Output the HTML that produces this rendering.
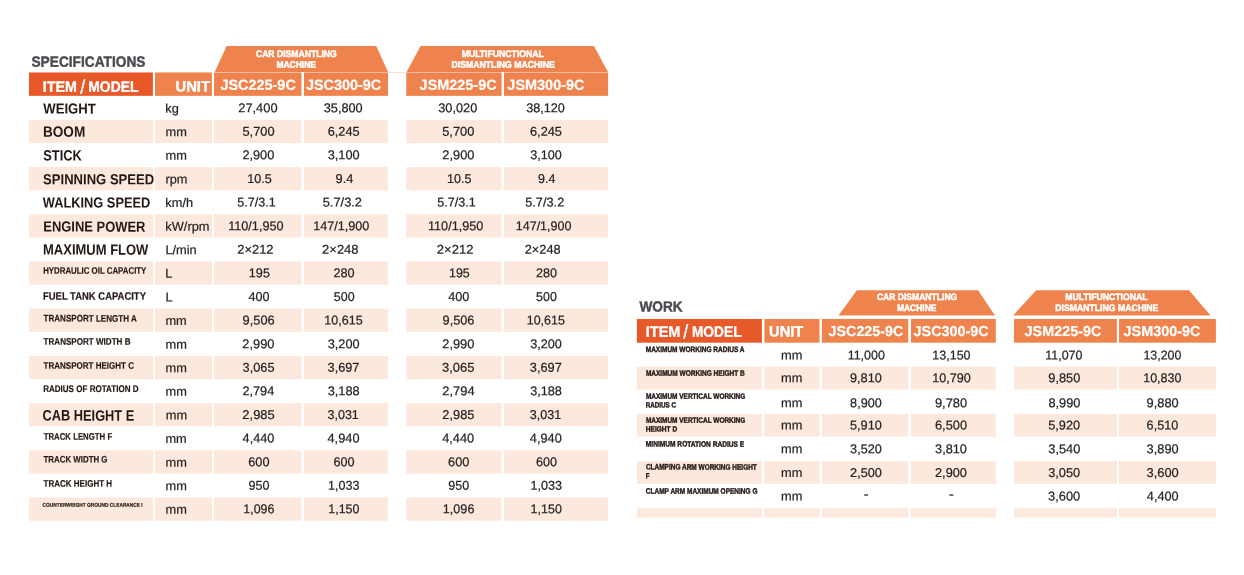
<!DOCTYPE html>
<html><head><meta charset="utf-8"><title>Specifications</title>
<style>
html,body{margin:0;padding:0;background:#fff;}
body{width:1244px;height:575px;position:relative;overflow:hidden;font-family:"Liberation Sans",sans-serif;}
svg{position:absolute;left:0;top:0;}
.tx{position:absolute;left:0;top:0;width:1244px;height:575px;will-change:transform;}
.t{position:absolute;left:0;top:0;white-space:pre;line-height:1;transform-origin:0 0;font-family:"Liberation Sans",sans-serif;}
</style></head><body>
<svg width="1244" height="575" viewBox="0 0 1244 575">
<rect x="29.00" y="72.45" width="123.90" height="23.40" fill="#e8592a"/>
<rect x="155.00" y="72.45" width="56.90" height="23.40" fill="#ef834d"/>
<rect x="214.00" y="72.45" width="87.50" height="23.40" fill="#ef834d"/>
<rect x="304.00" y="72.45" width="84.00" height="23.40" fill="#ef834d"/>
<rect x="406.25" y="72.45" width="95.35" height="23.40" fill="#ef834d"/>
<rect x="504.00" y="72.45" width="104.10" height="23.40" fill="#ef834d"/>
<rect x="29.00" y="119.90" width="123.90" height="23.20" fill="#fce8dc"/>
<rect x="155.00" y="119.90" width="56.90" height="23.20" fill="#fce8dc"/>
<rect x="214.00" y="119.90" width="87.50" height="23.20" fill="#fce8dc"/>
<rect x="304.00" y="119.90" width="84.00" height="23.20" fill="#fce8dc"/>
<rect x="406.25" y="119.90" width="95.35" height="23.20" fill="#fce8dc"/>
<rect x="504.00" y="119.90" width="104.10" height="23.20" fill="#fce8dc"/>
<rect x="29.00" y="167.10" width="123.90" height="23.20" fill="#fce8dc"/>
<rect x="155.00" y="167.10" width="56.90" height="23.20" fill="#fce8dc"/>
<rect x="214.00" y="167.10" width="87.50" height="23.20" fill="#fce8dc"/>
<rect x="304.00" y="167.10" width="84.00" height="23.20" fill="#fce8dc"/>
<rect x="406.25" y="167.10" width="95.35" height="23.20" fill="#fce8dc"/>
<rect x="504.00" y="167.10" width="104.10" height="23.20" fill="#fce8dc"/>
<rect x="29.00" y="214.30" width="123.90" height="23.20" fill="#fce8dc"/>
<rect x="155.00" y="214.30" width="56.90" height="23.20" fill="#fce8dc"/>
<rect x="214.00" y="214.30" width="87.50" height="23.20" fill="#fce8dc"/>
<rect x="304.00" y="214.30" width="84.00" height="23.20" fill="#fce8dc"/>
<rect x="406.25" y="214.30" width="95.35" height="23.20" fill="#fce8dc"/>
<rect x="504.00" y="214.30" width="104.10" height="23.20" fill="#fce8dc"/>
<rect x="29.00" y="261.50" width="123.90" height="23.20" fill="#fce8dc"/>
<rect x="155.00" y="261.50" width="56.90" height="23.20" fill="#fce8dc"/>
<rect x="214.00" y="261.50" width="87.50" height="23.20" fill="#fce8dc"/>
<rect x="304.00" y="261.50" width="84.00" height="23.20" fill="#fce8dc"/>
<rect x="406.25" y="261.50" width="95.35" height="23.20" fill="#fce8dc"/>
<rect x="504.00" y="261.50" width="104.10" height="23.20" fill="#fce8dc"/>
<rect x="29.00" y="308.70" width="123.90" height="23.20" fill="#fce8dc"/>
<rect x="155.00" y="308.70" width="56.90" height="23.20" fill="#fce8dc"/>
<rect x="214.00" y="308.70" width="87.50" height="23.20" fill="#fce8dc"/>
<rect x="304.00" y="308.70" width="84.00" height="23.20" fill="#fce8dc"/>
<rect x="406.25" y="308.70" width="95.35" height="23.20" fill="#fce8dc"/>
<rect x="504.00" y="308.70" width="104.10" height="23.20" fill="#fce8dc"/>
<rect x="29.00" y="355.90" width="123.90" height="23.20" fill="#fce8dc"/>
<rect x="155.00" y="355.90" width="56.90" height="23.20" fill="#fce8dc"/>
<rect x="214.00" y="355.90" width="87.50" height="23.20" fill="#fce8dc"/>
<rect x="304.00" y="355.90" width="84.00" height="23.20" fill="#fce8dc"/>
<rect x="406.25" y="355.90" width="95.35" height="23.20" fill="#fce8dc"/>
<rect x="504.00" y="355.90" width="104.10" height="23.20" fill="#fce8dc"/>
<rect x="29.00" y="403.10" width="123.90" height="23.20" fill="#fce8dc"/>
<rect x="155.00" y="403.10" width="56.90" height="23.20" fill="#fce8dc"/>
<rect x="214.00" y="403.10" width="87.50" height="23.20" fill="#fce8dc"/>
<rect x="304.00" y="403.10" width="84.00" height="23.20" fill="#fce8dc"/>
<rect x="406.25" y="403.10" width="95.35" height="23.20" fill="#fce8dc"/>
<rect x="504.00" y="403.10" width="104.10" height="23.20" fill="#fce8dc"/>
<rect x="29.00" y="450.30" width="123.90" height="23.20" fill="#fce8dc"/>
<rect x="155.00" y="450.30" width="56.90" height="23.20" fill="#fce8dc"/>
<rect x="214.00" y="450.30" width="87.50" height="23.20" fill="#fce8dc"/>
<rect x="304.00" y="450.30" width="84.00" height="23.20" fill="#fce8dc"/>
<rect x="406.25" y="450.30" width="95.35" height="23.20" fill="#fce8dc"/>
<rect x="504.00" y="450.30" width="104.10" height="23.20" fill="#fce8dc"/>
<rect x="29.00" y="497.50" width="123.90" height="23.20" fill="#fce8dc"/>
<rect x="155.00" y="497.50" width="56.90" height="23.20" fill="#fce8dc"/>
<rect x="214.00" y="497.50" width="87.50" height="23.20" fill="#fce8dc"/>
<rect x="304.00" y="497.50" width="84.00" height="23.20" fill="#fce8dc"/>
<rect x="406.25" y="497.50" width="95.35" height="23.20" fill="#fce8dc"/>
<rect x="504.00" y="497.50" width="104.10" height="23.20" fill="#fce8dc"/>
<polygon points="226.70,46.10 376.30,46.10 388.00,71.95 214.70,71.95" fill="#ef834d"/>
<polygon points="420.60,46.10 593.90,46.10 608.00,71.95 406.60,71.95" fill="#ef834d"/>
<rect x="388.00" y="72.00" width="18.25" height="0.60" fill="#f7c9b2"/>
<rect x="636.90" y="319.00" width="125.00" height="23.70" fill="#e8592a"/>
<rect x="764.40" y="319.00" width="55.10" height="23.70" fill="#ef834d"/>
<rect x="821.90" y="319.00" width="86.30" height="23.70" fill="#ef834d"/>
<rect x="911.00" y="319.00" width="84.80" height="23.70" fill="#ef834d"/>
<rect x="1014.00" y="319.00" width="102.90" height="23.70" fill="#ef834d"/>
<rect x="1119.00" y="319.00" width="96.90" height="23.70" fill="#ef834d"/>
<rect x="636.90" y="366.70" width="125.00" height="22.80" fill="#fce8dc"/>
<rect x="764.40" y="366.70" width="55.10" height="22.80" fill="#fce8dc"/>
<rect x="821.90" y="366.70" width="86.30" height="22.80" fill="#fce8dc"/>
<rect x="911.00" y="366.70" width="84.80" height="22.80" fill="#fce8dc"/>
<rect x="1014.00" y="366.70" width="102.90" height="22.80" fill="#fce8dc"/>
<rect x="1119.00" y="366.70" width="96.90" height="22.80" fill="#fce8dc"/>
<rect x="636.90" y="413.90" width="125.00" height="22.80" fill="#fce8dc"/>
<rect x="764.40" y="413.90" width="55.10" height="22.80" fill="#fce8dc"/>
<rect x="821.90" y="413.90" width="86.30" height="22.80" fill="#fce8dc"/>
<rect x="911.00" y="413.90" width="84.80" height="22.80" fill="#fce8dc"/>
<rect x="1014.00" y="413.90" width="102.90" height="22.80" fill="#fce8dc"/>
<rect x="1119.00" y="413.90" width="96.90" height="22.80" fill="#fce8dc"/>
<rect x="636.90" y="461.10" width="125.00" height="22.80" fill="#fce8dc"/>
<rect x="764.40" y="461.10" width="55.10" height="22.80" fill="#fce8dc"/>
<rect x="821.90" y="461.10" width="86.30" height="22.80" fill="#fce8dc"/>
<rect x="911.00" y="461.10" width="84.80" height="22.80" fill="#fce8dc"/>
<rect x="1014.00" y="461.10" width="102.90" height="22.80" fill="#fce8dc"/>
<rect x="1119.00" y="461.10" width="96.90" height="22.80" fill="#fce8dc"/>
<rect x="636.90" y="508.30" width="125.00" height="9.20" fill="#fce8dc"/>
<rect x="764.40" y="508.30" width="55.10" height="9.20" fill="#fce8dc"/>
<rect x="821.90" y="508.30" width="86.30" height="9.20" fill="#fce8dc"/>
<rect x="911.00" y="508.30" width="84.80" height="9.20" fill="#fce8dc"/>
<rect x="1014.00" y="508.30" width="102.90" height="9.20" fill="#fce8dc"/>
<rect x="1119.00" y="508.30" width="96.90" height="9.20" fill="#fce8dc"/>
<polygon points="856.90,290.25 978.10,290.25 995.00,315.40 838.50,315.40" fill="#ef834d"/>
<polygon points="1036.25,290.25 1189.00,290.25 1210.50,315.40 1013.10,315.40" fill="#ef834d"/>
</svg>
<div class="tx">
<span class="t" style="font-size:14.9px;color:#4b4a4f;transform:translate(31.47px,54.75px) scaleX(0.9210) rotate(0.03deg);font-weight:700;-webkit-text-stroke:0.4px #4b4a4f;">SPECIFICATIONS</span>
<span class="t" style="font-size:14.9px;color:#fff;transform:translate(42.86px,79.75px) scaleX(0.9576) rotate(0.03deg);font-weight:700;-webkit-text-stroke:0.35px #fff;">ITEM</span>
<span class="t" style="font-size:19.33px;color:#fff;transform:translate(80.29px,77.60px) scaleX(0.9148) rotate(0.03deg);-webkit-text-stroke:0.45px #fff;">/</span>
<span class="t" style="font-size:14.9px;color:#fff;transform:translate(88.29px,79.75px) scaleX(0.9323) rotate(0.03deg);font-weight:700;-webkit-text-stroke:0.35px #fff;">MODEL</span>
<span class="t" style="font-size:14.9px;color:#fff;transform:translate(175.44px,79.50px) scaleX(0.9957) rotate(0.03deg);font-weight:700;-webkit-text-stroke:0.4px #fff;">UNIT</span>
<span class="t" style="font-size:14.39px;color:#fff;transform:translate(220.41px,77.70px) scaleX(1.0038) rotate(0.03deg);font-weight:700;-webkit-text-stroke:0.2px #fff;">JSC225-9C</span>
<span class="t" style="font-size:14.39px;color:#fff;transform:translate(305.91px,77.70px) scaleX(1.0022) rotate(0.03deg);font-weight:700;-webkit-text-stroke:0.2px #fff;">JSC300-9C</span>
<span class="t" style="font-size:14.39px;color:#fff;transform:translate(419.61px,77.70px) scaleX(1.0036) rotate(0.03deg);font-weight:700;-webkit-text-stroke:0.2px #fff;">JSM225-9C</span>
<span class="t" style="font-size:14.39px;color:#fff;transform:translate(507.37px,77.70px) scaleX(1.0048) rotate(0.03deg);font-weight:700;-webkit-text-stroke:0.2px #fff;">JSM300-9C</span>
<span class="t" style="font-size:9.59px;color:#fff;transform:translate(255.95px,48.90px) scaleX(0.8977) rotate(0.03deg);font-weight:700;-webkit-text-stroke:0.5px #fff;">CAR DISMANTLING</span>
<span class="t" style="font-size:9.59px;color:#fff;transform:translate(276.40px,59.75px) scaleX(0.8853) rotate(0.03deg);font-weight:700;-webkit-text-stroke:0.5px #fff;">MACHINE</span>
<span class="t" style="font-size:9.59px;color:#fff;transform:translate(461.67px,48.90px) scaleX(0.9057) rotate(0.03deg);font-weight:700;-webkit-text-stroke:0.5px #fff;">MULTIFUNCTIONAL</span>
<span class="t" style="font-size:9.59px;color:#fff;transform:translate(451.52px,59.75px) scaleX(0.9073) rotate(0.03deg);font-weight:700;-webkit-text-stroke:0.5px #fff;">DISMANTLING MACHINE</span>
<span class="t" style="font-size:14.53px;color:#231815;transform:translate(43.24px,101.60px) scaleX(0.9048) rotate(0.03deg);font-weight:700;">WEIGHT</span>
<span class="t" style="font-size:14.9px;color:#231815;transform:translate(42.92px,124.75px) scaleX(0.9130) rotate(0.03deg);font-weight:700;">BOOM</span>
<span class="t" style="font-size:14.9px;color:#231815;transform:translate(43.19px,148.50px) scaleX(0.8648) rotate(0.03deg);font-weight:700;">STICK</span>
<span class="t" style="font-size:14.53px;color:#231815;transform:translate(43.13px,172.25px) scaleX(0.8996) rotate(0.03deg);font-weight:700;">SPINNING SPEED</span>
<span class="t" style="font-size:14.53px;color:#231815;transform:translate(42.81px,195.50px) scaleX(0.8828) rotate(0.03deg);font-weight:700;">WALKING SPEED</span>
<span class="t" style="font-size:14.68px;color:#231815;transform:translate(43.26px,219.60px) scaleX(0.8827) rotate(0.03deg);font-weight:700;">ENGINE POWER</span>
<span class="t" style="font-size:14.83px;color:#231815;transform:translate(43.02px,242.60px) scaleX(0.8762) rotate(0.03deg);font-weight:700;">MAXIMUM FLOW</span>
<span class="t" style="font-size:9.45px;color:#231815;transform:translate(43.15px,265.75px) scaleX(0.8330) rotate(0.03deg);font-weight:700;-webkit-text-stroke:0.2px #231815;">HYDRAULIC OIL CAPACITY</span>
<span class="t" style="font-size:10.9px;color:#231815;transform:translate(42.98px,290.75px) scaleX(0.8684) rotate(0.03deg);font-weight:700;-webkit-text-stroke:0.2px #231815;">FUEL TANK CAPACITY</span>
<span class="t" style="font-size:9.59px;color:#231815;transform:translate(43.51px,313.60px) scaleX(0.8422) rotate(0.03deg);font-weight:700;-webkit-text-stroke:0.2px #231815;">TRANSPORT LENGTH A</span>
<span class="t" style="font-size:9.59px;color:#231815;transform:translate(43.61px,336.75px) scaleX(0.8417) rotate(0.03deg);font-weight:700;-webkit-text-stroke:0.2px #231815;">TRANSPORT WIDTH B</span>
<span class="t" style="font-size:9.45px;color:#231815;transform:translate(43.52px,360.75px) scaleX(0.8495) rotate(0.03deg);font-weight:700;-webkit-text-stroke:0.2px #231815;">TRANSPORT HEIGHT C</span>
<span class="t" style="font-size:9.59px;color:#231815;transform:translate(43.14px,383.90px) scaleX(0.8401) rotate(0.03deg);font-weight:700;-webkit-text-stroke:0.2px #231815;">RADIUS OF ROTATION D</span>
<span class="t" style="font-size:15.12px;color:#231815;transform:translate(42.42px,407.60px) scaleX(0.8487) rotate(0.03deg);font-weight:700;">CAB HEIGHT E</span>
<span class="t" style="font-size:9.59px;color:#231815;transform:translate(43.63px,431.75px) scaleX(0.8155) rotate(0.03deg);font-weight:700;-webkit-text-stroke:0.2px #231815;">TRACK LENGTH F</span>
<span class="t" style="font-size:9.45px;color:#231815;transform:translate(43.51px,454.50px) scaleX(0.8358) rotate(0.03deg);font-weight:700;-webkit-text-stroke:0.2px #231815;">TRACK WIDTH G</span>
<span class="t" style="font-size:9.59px;color:#231815;transform:translate(43.61px,478.75px) scaleX(0.8351) rotate(0.03deg);font-weight:700;-webkit-text-stroke:0.2px #231815;">TRACK HEIGHT H</span>
<span class="t" style="font-size:5.45px;color:#231815;transform:translate(42.60px,502.75px) scaleX(0.8869) rotate(0.03deg);font-weight:700;-webkit-text-stroke:0.2px #231815;">COUNTERWEIGHT GROUND CLEARANCE I</span>
<span class="t" style="font-size:12.8px;color:#262223;transform:translate(238.28px,102.15px) scaleX(1.0027) rotate(0.03deg);-webkit-text-stroke:0.22px #262223;">27,400</span>
<span class="t" style="font-size:12.8px;color:#262223;transform:translate(323.76px,102.15px) scaleX(0.9928) rotate(0.03deg);-webkit-text-stroke:0.22px #262223;">35,800</span>
<span class="t" style="font-size:12.8px;color:#262223;transform:translate(438.26px,102.15px) scaleX(0.9973) rotate(0.03deg);-webkit-text-stroke:0.22px #262223;">30,020</span>
<span class="t" style="font-size:12.8px;color:#262223;transform:translate(526.15px,102.15px) scaleX(0.9880) rotate(0.03deg);-webkit-text-stroke:0.22px #262223;">38,120</span>
<span class="t" style="font-size:12.8px;color:#262223;transform:translate(242.41px,125.75px) scaleX(1.0051) rotate(0.03deg);-webkit-text-stroke:0.22px #262223;">5,700</span>
<span class="t" style="font-size:12.8px;color:#262223;transform:translate(327.66px,125.75px) scaleX(0.9981) rotate(0.03deg);-webkit-text-stroke:0.22px #262223;">6,245</span>
<span class="t" style="font-size:12.8px;color:#262223;transform:translate(442.23px,125.75px) scaleX(1.0032) rotate(0.03deg);-webkit-text-stroke:0.22px #262223;">5,700</span>
<span class="t" style="font-size:12.8px;color:#262223;transform:translate(529.98px,125.75px) scaleX(0.9986) rotate(0.03deg);-webkit-text-stroke:0.22px #262223;">6,245</span>
<span class="t" style="font-size:12.8px;color:#262223;transform:translate(242.42px,149.35px) scaleX(0.9954) rotate(0.03deg);-webkit-text-stroke:0.22px #262223;">2,900</span>
<span class="t" style="font-size:12.8px;color:#262223;transform:translate(327.64px,149.35px) scaleX(0.9990) rotate(0.03deg);-webkit-text-stroke:0.22px #262223;">3,100</span>
<span class="t" style="font-size:12.8px;color:#262223;transform:translate(442.36px,149.35px) scaleX(0.9995) rotate(0.03deg);-webkit-text-stroke:0.22px #262223;">2,900</span>
<span class="t" style="font-size:12.8px;color:#262223;transform:translate(530.14px,149.35px) scaleX(0.9887) rotate(0.03deg);-webkit-text-stroke:0.22px #262223;">3,100</span>
<span class="t" style="font-size:12.8px;color:#262223;transform:translate(247.16px,172.95px) scaleX(0.9853) rotate(0.03deg);-webkit-text-stroke:0.22px #262223;">10.5</span>
<span class="t" style="font-size:12.8px;color:#262223;transform:translate(335.61px,172.95px) scaleX(0.9966) rotate(0.03deg);-webkit-text-stroke:0.22px #262223;">9.4</span>
<span class="t" style="font-size:12.8px;color:#262223;transform:translate(447.02px,172.95px) scaleX(0.9795) rotate(0.03deg);-webkit-text-stroke:0.22px #262223;">10.5</span>
<span class="t" style="font-size:12.8px;color:#262223;transform:translate(538.08px,172.95px) scaleX(0.9746) rotate(0.03deg);-webkit-text-stroke:0.22px #262223;">9.4</span>
<span class="t" style="font-size:12.8px;color:#262223;transform:translate(237.36px,196.55px) scaleX(0.9829) rotate(0.03deg);-webkit-text-stroke:0.22px #262223;">5.7/3.1</span>
<span class="t" style="font-size:12.8px;color:#262223;transform:translate(322.74px,196.55px) scaleX(1.0029) rotate(0.03deg);-webkit-text-stroke:0.22px #262223;">5.7/3.2</span>
<span class="t" style="font-size:12.8px;color:#262223;transform:translate(437.15px,196.55px) scaleX(0.9840) rotate(0.03deg);-webkit-text-stroke:0.22px #262223;">5.7/3.1</span>
<span class="t" style="font-size:12.8px;color:#262223;transform:translate(525.21px,196.55px) scaleX(0.9973) rotate(0.03deg);-webkit-text-stroke:0.22px #262223;">5.7/3.2</span>
<span class="t" style="font-size:12.8px;color:#262223;transform:translate(228.17px,220.15px) scaleX(0.9894) rotate(0.03deg);-webkit-text-stroke:0.22px #262223;">110/1,950</span>
<span class="t" style="font-size:12.8px;color:#262223;transform:translate(313.19px,220.15px) scaleX(0.9859) rotate(0.03deg);-webkit-text-stroke:0.22px #262223;">147/1,900</span>
<span class="t" style="font-size:12.8px;color:#262223;transform:translate(427.95px,220.15px) scaleX(0.9893) rotate(0.03deg);-webkit-text-stroke:0.22px #262223;">110/1,950</span>
<span class="t" style="font-size:12.8px;color:#262223;transform:translate(515.69px,220.15px) scaleX(0.9812) rotate(0.03deg);-webkit-text-stroke:0.22px #262223;">147/1,900</span>
<span class="t" style="font-size:12.8px;color:#262223;transform:translate(237.20px,243.75px) scaleX(1.0123) rotate(0.03deg);-webkit-text-stroke:0.22px #262223;">2×212</span>
<span class="t" style="font-size:12.8px;color:#262223;transform:translate(322.11px,243.75px) scaleX(1.0137) rotate(0.03deg);-webkit-text-stroke:0.22px #262223;">2×248</span>
<span class="t" style="font-size:12.8px;color:#262223;transform:translate(436.87px,243.75px) scaleX(1.0156) rotate(0.03deg);-webkit-text-stroke:0.22px #262223;">2×212</span>
<span class="t" style="font-size:12.8px;color:#262223;transform:translate(524.76px,243.75px) scaleX(0.9961) rotate(0.03deg);-webkit-text-stroke:0.22px #262223;">2×248</span>
<span class="t" style="font-size:12.8px;color:#262223;transform:translate(248.86px,267.35px) scaleX(0.9855) rotate(0.03deg);-webkit-text-stroke:0.22px #262223;">195</span>
<span class="t" style="font-size:12.8px;color:#262223;transform:translate(333.41px,267.35px) scaleX(0.9916) rotate(0.03deg);-webkit-text-stroke:0.22px #262223;">280</span>
<span class="t" style="font-size:12.8px;color:#262223;transform:translate(449.02px,267.35px) scaleX(0.9694) rotate(0.03deg);-webkit-text-stroke:0.22px #262223;">195</span>
<span class="t" style="font-size:12.8px;color:#262223;transform:translate(535.97px,267.35px) scaleX(0.9851) rotate(0.03deg);-webkit-text-stroke:0.22px #262223;">280</span>
<span class="t" style="font-size:12.8px;color:#262223;transform:translate(248.58px,290.95px) scaleX(0.9862) rotate(0.03deg);-webkit-text-stroke:0.22px #262223;">400</span>
<span class="t" style="font-size:12.8px;color:#262223;transform:translate(333.80px,290.95px) scaleX(0.9723) rotate(0.03deg);-webkit-text-stroke:0.22px #262223;">500</span>
<span class="t" style="font-size:12.8px;color:#262223;transform:translate(448.25px,290.95px) scaleX(0.9896) rotate(0.03deg);-webkit-text-stroke:0.22px #262223;">400</span>
<span class="t" style="font-size:12.8px;color:#262223;transform:translate(536.13px,290.95px) scaleX(0.9747) rotate(0.03deg);-webkit-text-stroke:0.22px #262223;">500</span>
<span class="t" style="font-size:12.8px;color:#262223;transform:translate(242.61px,314.55px) scaleX(1.0011) rotate(0.03deg);-webkit-text-stroke:0.22px #262223;">9,506</span>
<span class="t" style="font-size:12.8px;color:#262223;transform:translate(324.38px,314.55px) scaleX(0.9764) rotate(0.03deg);-webkit-text-stroke:0.22px #262223;">10,615</span>
<span class="t" style="font-size:12.8px;color:#262223;transform:translate(442.57px,314.55px) scaleX(0.9947) rotate(0.03deg);-webkit-text-stroke:0.22px #262223;">9,506</span>
<span class="t" style="font-size:12.8px;color:#262223;transform:translate(526.80px,314.55px) scaleX(0.9712) rotate(0.03deg);-webkit-text-stroke:0.22px #262223;">10,615</span>
<span class="t" style="font-size:12.8px;color:#262223;transform:translate(242.38px,338.15px) scaleX(1.0014) rotate(0.03deg);-webkit-text-stroke:0.22px #262223;">2,990</span>
<span class="t" style="font-size:12.8px;color:#262223;transform:translate(327.64px,338.15px) scaleX(0.9990) rotate(0.03deg);-webkit-text-stroke:0.22px #262223;">3,200</span>
<span class="t" style="font-size:12.8px;color:#262223;transform:translate(442.28px,338.15px) scaleX(1.0008) rotate(0.03deg);-webkit-text-stroke:0.22px #262223;">2,990</span>
<span class="t" style="font-size:12.8px;color:#262223;transform:translate(530.14px,338.15px) scaleX(0.9887) rotate(0.03deg);-webkit-text-stroke:0.22px #262223;">3,200</span>
<span class="t" style="font-size:12.8px;color:#262223;transform:translate(242.63px,361.75px) scaleX(0.9957) rotate(0.03deg);-webkit-text-stroke:0.22px #262223;">3,065</span>
<span class="t" style="font-size:12.8px;color:#262223;transform:translate(327.59px,361.75px) scaleX(0.9930) rotate(0.03deg);-webkit-text-stroke:0.22px #262223;">3,697</span>
<span class="t" style="font-size:12.8px;color:#262223;transform:translate(442.07px,361.75px) scaleX(1.0102) rotate(0.03deg);-webkit-text-stroke:0.22px #262223;">3,065</span>
<span class="t" style="font-size:12.8px;color:#262223;transform:translate(529.81px,361.75px) scaleX(0.9968) rotate(0.03deg);-webkit-text-stroke:0.22px #262223;">3,697</span>
<span class="t" style="font-size:12.8px;color:#262223;transform:translate(242.40px,385.35px) scaleX(0.9952) rotate(0.03deg);-webkit-text-stroke:0.22px #262223;">2,794</span>
<span class="t" style="font-size:12.8px;color:#262223;transform:translate(327.64px,385.35px) scaleX(0.9993) rotate(0.03deg);-webkit-text-stroke:0.22px #262223;">3,188</span>
<span class="t" style="font-size:12.8px;color:#262223;transform:translate(442.26px,385.35px) scaleX(1.0099) rotate(0.03deg);-webkit-text-stroke:0.22px #262223;">2,794</span>
<span class="t" style="font-size:12.8px;color:#262223;transform:translate(530.14px,385.35px) scaleX(0.9912) rotate(0.03deg);-webkit-text-stroke:0.22px #262223;">3,188</span>
<span class="t" style="font-size:12.8px;color:#262223;transform:translate(242.36px,408.95px) scaleX(1.0098) rotate(0.03deg);-webkit-text-stroke:0.22px #262223;">2,985</span>
<span class="t" style="font-size:12.8px;color:#262223;transform:translate(327.51px,408.95px) scaleX(0.9779) rotate(0.03deg);-webkit-text-stroke:0.22px #262223;">3,031</span>
<span class="t" style="font-size:12.8px;color:#262223;transform:translate(442.38px,408.95px) scaleX(0.9999) rotate(0.03deg);-webkit-text-stroke:0.22px #262223;">2,985</span>
<span class="t" style="font-size:12.8px;color:#262223;transform:translate(529.81px,408.95px) scaleX(0.9791) rotate(0.03deg);-webkit-text-stroke:0.22px #262223;">3,031</span>
<span class="t" style="font-size:12.8px;color:#262223;transform:translate(242.60px,432.55px) scaleX(0.9944) rotate(0.03deg);-webkit-text-stroke:0.22px #262223;">4,440</span>
<span class="t" style="font-size:12.8px;color:#262223;transform:translate(327.52px,432.55px) scaleX(0.9988) rotate(0.03deg);-webkit-text-stroke:0.22px #262223;">4,940</span>
<span class="t" style="font-size:12.8px;color:#262223;transform:translate(442.16px,432.55px) scaleX(1.0010) rotate(0.03deg);-webkit-text-stroke:0.22px #262223;">4,440</span>
<span class="t" style="font-size:12.8px;color:#262223;transform:translate(529.87px,432.55px) scaleX(0.9945) rotate(0.03deg);-webkit-text-stroke:0.22px #262223;">4,940</span>
<span class="t" style="font-size:12.8px;color:#262223;transform:translate(248.23px,456.15px) scaleX(0.9981) rotate(0.03deg);-webkit-text-stroke:0.22px #262223;">600</span>
<span class="t" style="font-size:12.8px;color:#262223;transform:translate(333.48px,456.15px) scaleX(0.9893) rotate(0.03deg);-webkit-text-stroke:0.22px #262223;">600</span>
<span class="t" style="font-size:12.8px;color:#262223;transform:translate(448.03px,456.15px) scaleX(0.9994) rotate(0.03deg);-webkit-text-stroke:0.22px #262223;">600</span>
<span class="t" style="font-size:12.8px;color:#262223;transform:translate(535.93px,456.15px) scaleX(0.9866) rotate(0.03deg);-webkit-text-stroke:0.22px #262223;">600</span>
<span class="t" style="font-size:12.8px;color:#262223;transform:translate(248.53px,479.75px) scaleX(0.9810) rotate(0.03deg);-webkit-text-stroke:0.22px #262223;">950</span>
<span class="t" style="font-size:12.8px;color:#262223;transform:translate(328.10px,479.75px) scaleX(0.9825) rotate(0.03deg);-webkit-text-stroke:0.22px #262223;">1,033</span>
<span class="t" style="font-size:12.8px;color:#262223;transform:translate(448.32px,479.75px) scaleX(0.9790) rotate(0.03deg);-webkit-text-stroke:0.22px #262223;">950</span>
<span class="t" style="font-size:12.8px;color:#262223;transform:translate(530.44px,479.75px) scaleX(0.9837) rotate(0.03deg);-webkit-text-stroke:0.22px #262223;">1,033</span>
<span class="t" style="font-size:12.8px;color:#262223;transform:translate(243.32px,503.35px) scaleX(0.9707) rotate(0.03deg);-webkit-text-stroke:0.22px #262223;">1,096</span>
<span class="t" style="font-size:12.8px;color:#262223;transform:translate(328.33px,503.35px) scaleX(0.9706) rotate(0.03deg);-webkit-text-stroke:0.22px #262223;">1,150</span>
<span class="t" style="font-size:12.8px;color:#262223;transform:translate(442.84px,503.35px) scaleX(0.9859) rotate(0.03deg);-webkit-text-stroke:0.22px #262223;">1,096</span>
<span class="t" style="font-size:12.8px;color:#262223;transform:translate(530.59px,503.35px) scaleX(0.9767) rotate(0.03deg);-webkit-text-stroke:0.22px #262223;">1,150</span>
<span class="t" style="font-size:14.68px;color:#4b4a4f;transform:translate(639.47px,299.60px) scaleX(0.9300) rotate(0.03deg);font-weight:700;-webkit-text-stroke:0.4px #4b4a4f;">WORK</span>
<span class="t" style="font-size:15.12px;color:#fff;transform:translate(645.83px,323.70px) scaleX(0.9548) rotate(0.03deg);font-weight:700;-webkit-text-stroke:0.35px #fff;">ITEM</span>
<span class="t" style="font-size:19.62px;color:#fff;transform:translate(683.28px,322.60px) scaleX(0.8950) rotate(0.03deg);-webkit-text-stroke:0.45px #fff;">/</span>
<span class="t" style="font-size:15.12px;color:#fff;transform:translate(691.92px,323.70px) scaleX(0.9095) rotate(0.03deg);font-weight:700;-webkit-text-stroke:0.35px #fff;">MODEL</span>
<span class="t" style="font-size:15.12px;color:#fff;transform:translate(769.11px,323.60px) scaleX(0.9678) rotate(0.03deg);font-weight:700;-webkit-text-stroke:0.4px #fff;">UNIT</span>
<span class="t" style="font-size:14.39px;color:#fff;transform:translate(828.60px,324.00px) scaleX(0.9941) rotate(0.03deg);font-weight:700;-webkit-text-stroke:0.2px #fff;">JSC225-9C</span>
<span class="t" style="font-size:14.39px;color:#fff;transform:translate(913.59px,324.00px) scaleX(1.0009) rotate(0.03deg);font-weight:700;-webkit-text-stroke:0.2px #fff;">JSC300-9C</span>
<span class="t" style="font-size:14.39px;color:#fff;transform:translate(1024.53px,324.00px) scaleX(1.0024) rotate(0.03deg);font-weight:700;-webkit-text-stroke:0.2px #fff;">JSM225-9C</span>
<span class="t" style="font-size:14.39px;color:#fff;transform:translate(1123.53px,324.00px) scaleX(1.0024) rotate(0.03deg);font-weight:700;-webkit-text-stroke:0.2px #fff;">JSM300-9C</span>
<span class="t" style="font-size:9.3px;color:#fff;transform:translate(876.90px,293.00px) scaleX(0.9202) rotate(0.03deg);font-weight:700;-webkit-text-stroke:0.5px #fff;">CAR DISMANTLING</span>
<span class="t" style="font-size:9.3px;color:#fff;transform:translate(896.91px,303.90px) scaleX(0.9104) rotate(0.03deg);font-weight:700;-webkit-text-stroke:0.5px #fff;">MACHINE</span>
<span class="t" style="font-size:9.3px;color:#fff;transform:translate(1065.33px,293.00px) scaleX(0.9336) rotate(0.03deg);font-weight:700;-webkit-text-stroke:0.5px #fff;">MULTIFUNCTIONAL</span>
<span class="t" style="font-size:9.3px;color:#fff;transform:translate(1055.29px,303.90px) scaleX(0.9330) rotate(0.03deg);font-weight:700;-webkit-text-stroke:0.5px #fff;">DISMANTLING MACHINE</span>
<span class="t" style="font-size:7.85px;color:#231815;transform:translate(645.72px,345.90px) scaleX(0.8298) rotate(0.03deg);font-weight:700;-webkit-text-stroke:0.4px #231815;">MAXIMUM WORKING RADIUS A</span>
<span class="t" style="font-size:7.85px;color:#231815;transform:translate(645.88px,369.75px) scaleX(0.8314) rotate(0.03deg);font-weight:700;-webkit-text-stroke:0.4px #231815;">MAXIMUM WORKING HEIGHT B</span>
<span class="t" style="font-size:7.7px;color:#231815;transform:translate(645.91px,392.75px) scaleX(0.8408) rotate(0.03deg);font-weight:700;-webkit-text-stroke:0.4px #231815;">MAXIMUM VERTICAL WORKING</span>
<span class="t" style="font-size:7.7px;color:#231815;transform:translate(645.77px,401.50px) scaleX(0.8142) rotate(0.03deg);font-weight:700;-webkit-text-stroke:0.4px #231815;">RADIUS C</span>
<span class="t" style="font-size:7.7px;color:#231815;transform:translate(645.91px,416.75px) scaleX(0.8408) rotate(0.03deg);font-weight:700;-webkit-text-stroke:0.4px #231815;">MAXIMUM VERTICAL WORKING</span>
<span class="t" style="font-size:7.56px;color:#231815;transform:translate(645.86px,425.60px) scaleX(0.8667) rotate(0.03deg);font-weight:700;-webkit-text-stroke:0.4px #231815;">HEIGHT D</span>
<span class="t" style="font-size:7.85px;color:#231815;transform:translate(645.85px,440.60px) scaleX(0.8412) rotate(0.03deg);font-weight:700;-webkit-text-stroke:0.4px #231815;">MINIMUM ROTATION RADIUS E</span>
<span class="t" style="font-size:7.99px;color:#231815;transform:translate(645.89px,463.60px) scaleX(0.8110) rotate(0.03deg);font-weight:700;-webkit-text-stroke:0.4px #231815;">CLAMPING ARM WORKING HEIGHT</span>
<span class="t" style="font-size:7.85px;color:#231815;transform:translate(645.87px,472.50px) scaleX(0.7652) rotate(0.03deg);font-weight:700;-webkit-text-stroke:0.4px #231815;">F</span>
<span class="t" style="font-size:8.14px;color:#231815;transform:translate(645.81px,487.75px) scaleX(0.8005) rotate(0.03deg);font-weight:700;-webkit-text-stroke:0.4px #231815;">CLAMP ARM MAXIMUM OPENING G</span>
<span class="t" style="font-size:12.8px;color:#262223;transform:translate(847.66px,349.50px) scaleX(0.9743) rotate(0.03deg);-webkit-text-stroke:0.22px #262223;">11,000</span>
<span class="t" style="font-size:12.8px;color:#262223;transform:translate(932.28px,349.50px) scaleX(0.9778) rotate(0.03deg);-webkit-text-stroke:0.22px #262223;">13,150</span>
<span class="t" style="font-size:12.8px;color:#262223;transform:translate(1045.16px,349.50px) scaleX(0.9789) rotate(0.03deg);-webkit-text-stroke:0.22px #262223;">11,070</span>
<span class="t" style="font-size:12.8px;color:#262223;transform:translate(1143.43px,349.50px) scaleX(0.9697) rotate(0.03deg);-webkit-text-stroke:0.22px #262223;">13,200</span>
<span class="t" style="font-size:12.8px;color:#262223;transform:translate(850.03px,372.20px) scaleX(0.9900) rotate(0.03deg);-webkit-text-stroke:0.22px #262223;">9,810</span>
<span class="t" style="font-size:12.8px;color:#262223;transform:translate(932.17px,372.20px) scaleX(0.9843) rotate(0.03deg);-webkit-text-stroke:0.22px #262223;">10,790</span>
<span class="t" style="font-size:12.8px;color:#262223;transform:translate(1048.29px,372.20px) scaleX(1.0010) rotate(0.03deg);-webkit-text-stroke:0.22px #262223;">9,850</span>
<span class="t" style="font-size:12.8px;color:#262223;transform:translate(1143.19px,372.20px) scaleX(0.9764) rotate(0.03deg);-webkit-text-stroke:0.22px #262223;">10,830</span>
<span class="t" style="font-size:12.8px;color:#262223;transform:translate(850.12px,397.20px) scaleX(0.9869) rotate(0.03deg);-webkit-text-stroke:0.22px #262223;">8,900</span>
<span class="t" style="font-size:12.8px;color:#262223;transform:translate(934.92px,397.20px) scaleX(1.0047) rotate(0.03deg);-webkit-text-stroke:0.22px #262223;">9,780</span>
<span class="t" style="font-size:12.8px;color:#262223;transform:translate(1048.39px,397.20px) scaleX(0.9981) rotate(0.03deg);-webkit-text-stroke:0.22px #262223;">8,990</span>
<span class="t" style="font-size:12.8px;color:#262223;transform:translate(1146.62px,397.20px) scaleX(1.0019) rotate(0.03deg);-webkit-text-stroke:0.22px #262223;">9,880</span>
<span class="t" style="font-size:12.8px;color:#262223;transform:translate(849.96px,419.60px) scaleX(0.9967) rotate(0.03deg);-webkit-text-stroke:0.22px #262223;">5,910</span>
<span class="t" style="font-size:12.8px;color:#262223;transform:translate(934.94px,419.60px) scaleX(1.0042) rotate(0.03deg);-webkit-text-stroke:0.22px #262223;">6,500</span>
<span class="t" style="font-size:12.8px;color:#262223;transform:translate(1048.19px,419.60px) scaleX(0.9971) rotate(0.03deg);-webkit-text-stroke:0.22px #262223;">5,920</span>
<span class="t" style="font-size:12.8px;color:#262223;transform:translate(1146.63px,419.60px) scaleX(0.9867) rotate(0.03deg);-webkit-text-stroke:0.22px #262223;">6,510</span>
<span class="t" style="font-size:12.8px;color:#262223;transform:translate(850.11px,443.20px) scaleX(0.9870) rotate(0.03deg);-webkit-text-stroke:0.22px #262223;">3,520</span>
<span class="t" style="font-size:12.8px;color:#262223;transform:translate(935.11px,443.20px) scaleX(0.9945) rotate(0.03deg);-webkit-text-stroke:0.22px #262223;">3,810</span>
<span class="t" style="font-size:12.8px;color:#262223;transform:translate(1048.29px,443.20px) scaleX(1.0010) rotate(0.03deg);-webkit-text-stroke:0.22px #262223;">3,540</span>
<span class="t" style="font-size:12.8px;color:#262223;transform:translate(1146.63px,443.20px) scaleX(0.9984) rotate(0.03deg);-webkit-text-stroke:0.22px #262223;">3,890</span>
<span class="t" style="font-size:12.8px;color:#262223;transform:translate(850.12px,466.90px) scaleX(0.9910) rotate(0.03deg);-webkit-text-stroke:0.22px #262223;">2,500</span>
<span class="t" style="font-size:12.8px;color:#262223;transform:translate(935.00px,466.90px) scaleX(0.9966) rotate(0.03deg);-webkit-text-stroke:0.22px #262223;">2,900</span>
<span class="t" style="font-size:12.8px;color:#262223;transform:translate(1048.14px,466.90px) scaleX(0.9998) rotate(0.03deg);-webkit-text-stroke:0.22px #262223;">3,050</span>
<span class="t" style="font-size:12.8px;color:#262223;transform:translate(1146.49px,466.90px) scaleX(1.0082) rotate(0.03deg);-webkit-text-stroke:0.22px #262223;">3,600</span>
<span class="t" style="font-size:12.8px;color:#262223;transform:translate(1048.13px,490.50px) scaleX(1.0030) rotate(0.03deg);-webkit-text-stroke:0.22px #262223;">3,600</span>
<span class="t" style="font-size:12.8px;color:#262223;transform:translate(1146.81px,490.50px) scaleX(0.9955) rotate(0.03deg);-webkit-text-stroke:0.22px #262223;">4,400</span>
<span class="t" style="font-size:12.8px;color:#262223;transform:translate(863.85px,488.40px) scaleX(1.1317) rotate(0.03deg);-webkit-text-stroke:0.22px #262223;">-</span>
<span class="t" style="font-size:12.8px;color:#262223;transform:translate(948.96px,488.40px) scaleX(1.1255) rotate(0.03deg);-webkit-text-stroke:0.22px #262223;">-</span>
<span class="t" style="font-size:12.8px;color:#262223;transform:translate(165.38px,102.65px) rotate(0.03deg);-webkit-text-stroke:0.22px #262223;">kg</span>
<span class="t" style="font-size:12.8px;color:#262223;transform:translate(165.55px,126.25px) rotate(0.03deg);-webkit-text-stroke:0.22px #262223;">mm</span>
<span class="t" style="font-size:12.8px;color:#262223;transform:translate(165.54px,149.85px) rotate(0.03deg);-webkit-text-stroke:0.22px #262223;">mm</span>
<span class="t" style="font-size:12.8px;color:#262223;transform:translate(165.50px,173.45px) rotate(0.03deg);-webkit-text-stroke:0.22px #262223;">rpm</span>
<span class="t" style="font-size:12.8px;color:#262223;transform:translate(165.34px,197.05px) rotate(0.03deg);-webkit-text-stroke:0.22px #262223;">km/h</span>
<span class="t" style="font-size:12.8px;color:#262223;transform:translate(165.38px,220.65px) rotate(0.03deg);-webkit-text-stroke:0.22px #262223;">kW/rpm</span>
<span class="t" style="font-size:12.8px;color:#262223;transform:translate(165.45px,244.25px) rotate(0.03deg);-webkit-text-stroke:0.22px #262223;">L/min</span>
<span class="t" style="font-size:12.8px;color:#262223;transform:translate(165.35px,267.85px) rotate(0.03deg);-webkit-text-stroke:0.22px #262223;">L</span>
<span class="t" style="font-size:12.8px;color:#262223;transform:translate(165.49px,291.45px) rotate(0.03deg);-webkit-text-stroke:0.22px #262223;">L</span>
<span class="t" style="font-size:12.8px;color:#262223;transform:translate(165.45px,315.05px) rotate(0.03deg);-webkit-text-stroke:0.22px #262223;">mm</span>
<span class="t" style="font-size:12.8px;color:#262223;transform:translate(165.54px,338.65px) rotate(0.03deg);-webkit-text-stroke:0.22px #262223;">mm</span>
<span class="t" style="font-size:12.8px;color:#262223;transform:translate(165.55px,362.25px) rotate(0.03deg);-webkit-text-stroke:0.22px #262223;">mm</span>
<span class="t" style="font-size:12.8px;color:#262223;transform:translate(165.54px,385.85px) rotate(0.03deg);-webkit-text-stroke:0.22px #262223;">mm</span>
<span class="t" style="font-size:12.8px;color:#262223;transform:translate(165.73px,409.45px) rotate(0.03deg);-webkit-text-stroke:0.22px #262223;">mm</span>
<span class="t" style="font-size:12.8px;color:#262223;transform:translate(165.45px,433.05px) rotate(0.03deg);-webkit-text-stroke:0.22px #262223;">mm</span>
<span class="t" style="font-size:12.8px;color:#262223;transform:translate(165.54px,456.65px) rotate(0.03deg);-webkit-text-stroke:0.22px #262223;">mm</span>
<span class="t" style="font-size:12.8px;color:#262223;transform:translate(165.55px,480.25px) rotate(0.03deg);-webkit-text-stroke:0.22px #262223;">mm</span>
<span class="t" style="font-size:12.8px;color:#262223;transform:translate(165.54px,503.85px) rotate(0.03deg);-webkit-text-stroke:0.22px #262223;">mm</span>
<span class="t" style="font-size:12.8px;color:#262223;transform:translate(781.11px,349.50px) rotate(0.03deg);-webkit-text-stroke:0.22px #262223;">mm</span>
<span class="t" style="font-size:12.8px;color:#262223;transform:translate(781.11px,372.20px) rotate(0.03deg);-webkit-text-stroke:0.22px #262223;">mm</span>
<span class="t" style="font-size:12.8px;color:#262223;transform:translate(781.11px,397.20px) rotate(0.03deg);-webkit-text-stroke:0.22px #262223;">mm</span>
<span class="t" style="font-size:12.8px;color:#262223;transform:translate(781.11px,419.60px) rotate(0.03deg);-webkit-text-stroke:0.22px #262223;">mm</span>
<span class="t" style="font-size:12.8px;color:#262223;transform:translate(781.11px,443.20px) rotate(0.03deg);-webkit-text-stroke:0.22px #262223;">mm</span>
<span class="t" style="font-size:12.8px;color:#262223;transform:translate(781.11px,466.90px) rotate(0.03deg);-webkit-text-stroke:0.22px #262223;">mm</span>
<span class="t" style="font-size:12.8px;color:#262223;transform:translate(781.11px,490.50px) rotate(0.03deg);-webkit-text-stroke:0.22px #262223;">mm</span>
</div>
</body></html>
